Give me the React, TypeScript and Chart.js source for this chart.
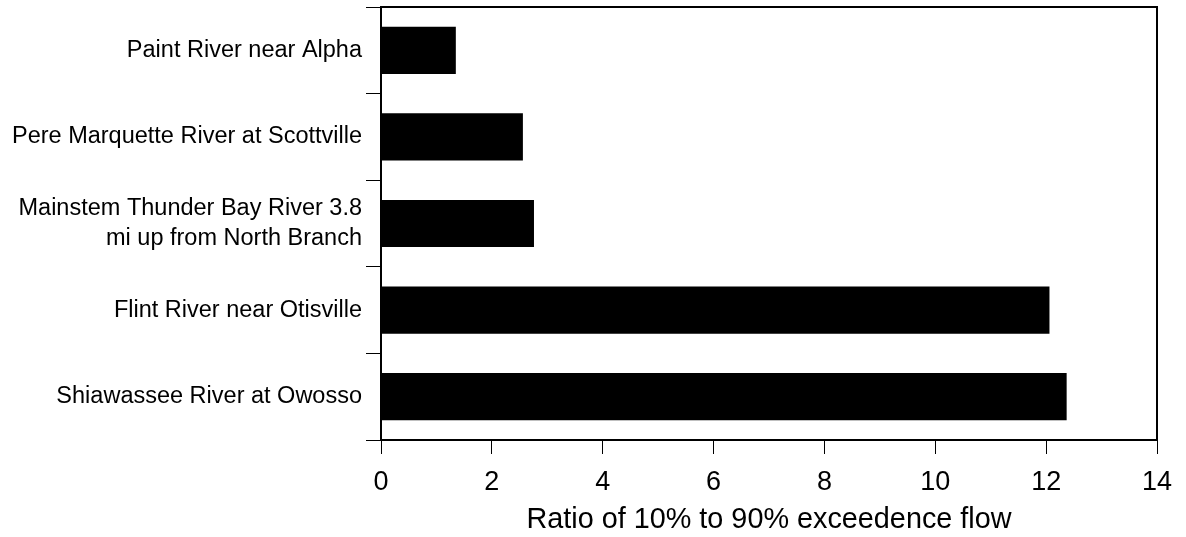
import React, { useEffect, useRef } from "react";
import { Chart, registerables } from "chart.js";

Chart.register(...registerables);

const categories: (string | string[])[] = [
  "Paint River near Alpha",
  "Pere Marquette River at Scottville",
  ["Mainstem Thunder Bay River 3.8", "mi up from North Branch"],
  "Flint River near Otisville",
  "Shiawassee River at Owosso",
];
const ratioValues = [1.35, 2.56, 2.76, 12.06, 12.37];
const xTicks = [0, 2, 4, 6, 8, 10, 12, 14];
const xTitle = "Ratio of 10% to 90% exceedence flow";

const FONT = "'Liberation Sans', Arial, sans-serif";

const framePlugin = {
  id: "frame",
  afterDraw(chart: any) {
    const { ctx, chartArea } = chart;
    ctx.save();
    ctx.strokeStyle = "#000";
    ctx.lineWidth = 2;
    ctx.strokeRect(chartArea.left, chartArea.top, chartArea.right - chartArea.left, chartArea.bottom - chartArea.top);
    ctx.restore();
  },
};

export default function App() {
  const ref = useRef<HTMLCanvasElement | null>(null);
  useEffect(() => {
    if (!ref.current) return;
    const chart = new Chart(ref.current, {
      type: "bar",
      data: {
        labels: categories,
        datasets: [
          {
            data: ratioValues,
            backgroundColor: "#000",
            borderWidth: 0,
            barPercentage: 0.545,
            categoryPercentage: 1,
          },
        ],
      },
      options: {
        indexAxis: "y",
        animation: false,
        responsive: true,
        maintainAspectRatio: false,
        layout: { padding: { top: 7, right: 29, left: 0, bottom: 0 } },
        plugins: { legend: { display: false }, tooltip: { enabled: false } },
        scales: {
          x: {
            type: "linear",
            min: 0,
            max: 14,
            afterFit: (s: any) => {
              s.height = 97;
            },
            afterBuildTicks: (s: any) => {
              s.ticks = xTicks.map((v) => ({ value: v }));
            },
            ticks: {
              color: "#000",
              font: { family: FONT, size: 27 },
              padding: 12,
              maxRotation: 0,
            },
            grid: {
              drawOnChartArea: false,
              drawTicks: true,
              tickLength: 14,
              color: "#000",
              lineWidth: 1,
            },
            border: { display: true, color: "#000", width: 2 },
            title: {
              display: true,
              text: xTitle,
              color: "#000",
              font: { family: FONT, size: 28.8 },
              padding: { top: 0, bottom: 0 },
            },
          },
          y: {
            type: "category",
            afterFit: (s: any) => {
              s.width = 381;
              s.paddingTop = 0;
              s.paddingBottom = 0;
            },
            ticks: {
              color: "#000",
              font: { family: FONT, size: 23.5, lineHeight: 1.27 },
              padding: 4,
              autoSkip: false,
            },
            grid: {
              offset: true,
              drawOnChartArea: false,
              drawTicks: true,
              tickLength: 15,
              color: "#000",
              lineWidth: 1,
            },
            border: { display: true, color: "#000", width: 2 },
          },
        },
      },
      plugins: [framePlugin],
    });
    return () => chart.destroy();
  }, []);
  return (
    <div style={{ position: "fixed", left: 0, top: 0, width: 1186, height: 537, background: "#fff" }}>
      <canvas ref={ref} />
    </div>
  );
}
